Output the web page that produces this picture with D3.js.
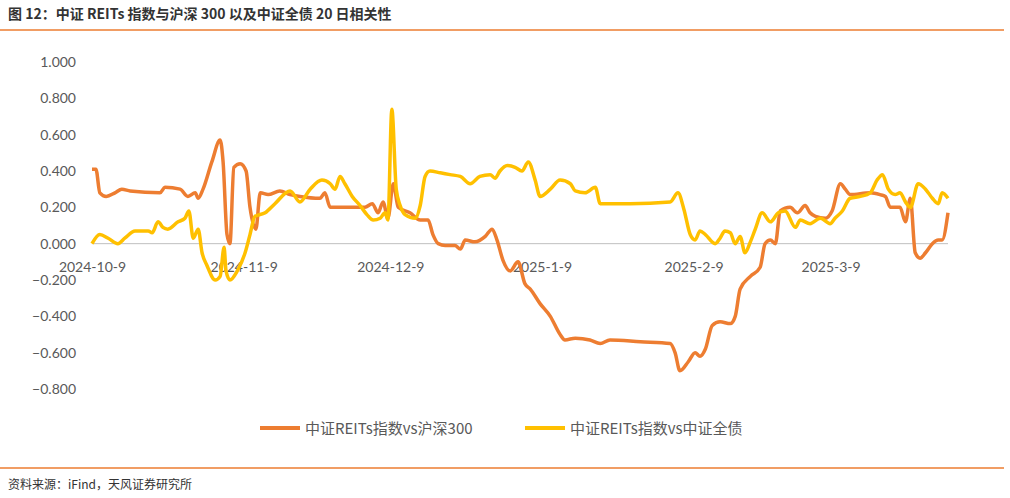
<!DOCTYPE html>
<html><head><meta charset="utf-8">
<script src="https://cdn.jsdelivr.net/npm/d3@7/dist/d3.min.js"></script>
<style>body{margin:0;background:#fff;font-family:"Noto Sans CJK SC","Noto Sans",sans-serif;}</style>
</head><body><svg id="c" width="1010" height="498"></svg>
<script>
const title = "图 12：中证 REITs 指数与沪深 300 以及中证全债 20 日相关性";
const source = "资料来源：iFind，天风证券研究所";
const startDate = "2024-10-9";
const tickDays = [0, 31, 61, 92, 123, 151];
const tickLabels = ["2024-10-9","2024-11-9","2024-12-9","2025-1-9","2025-2-9","2025-3-9"];
const yTicks = [1.0,0.8,0.6,0.4,0.2,0,-0.2,-0.4,-0.6,-0.8];
const seriesNames = ["中证REITs指数vs沪深300","中证REITs指数vs中证全债"];
const orangeDays = [0,0.8,1.6,2.9,4.7,6.1,7.8,13.9,14.9,18,19.6,21.1,21.7,22.7,24.5,26.2,26.8,27.6,28.2,29,30.3,31.5,32.3,33.5,34.4,36,38.4,40.5,42.5,46.6,47.6,48.7,52.8,55.8,57.3,58.5,59.5,60.5,61.6,62.6,65,67.1,68.7,69.7,70.8,72.2,74.2,75.3,76.3,78.3,80.4,81.8,82.8,84,85.5,87.1,88.5,89.6,91.6,93.7,95.7,96.7,98.8,101.8,103.9,105.9,112.1,118.2,119.2,120.2,121.9,123.3,124.3,125.4,126.8,128.4,130.5,131.5,132.5,134.6,136.6,137.6,138.7,139.7,140.7,142.7,144.2,145.8,146.8,147.9,149.9,151.3,153,154,155,159.1,161.1,162.2,163.2,165.2,166.3,167.3,168.3,169.3,170.4,171.8,173,173.8,175];
const orangeVals = [0.41,0.41,0.28,0.26,0.28,0.30,0.29,0.28,0.31,0.30,0.26,0.28,0.25,0.30,0.45,0.57,0.45,0.05,0.0,0.42,0.44,0.40,0.20,0.08,0.28,0.27,0.29,0.27,0.26,0.25,0.28,0.20,0.20,0.20,0.22,0.17,0.23,0.14,0.33,0.20,0.17,0.13,0.13,0.05,0.0,-0.01,-0.01,-0.03,0.02,0.01,0.04,0.08,0.02,-0.09,-0.15,-0.10,-0.22,-0.25,-0.33,-0.40,-0.50,-0.53,-0.52,-0.53,-0.55,-0.53,-0.54,-0.55,-0.60,-0.70,-0.65,-0.60,-0.62,-0.58,-0.45,-0.43,-0.44,-0.40,-0.25,-0.18,-0.13,0.0,0.02,0.0,0.18,0.20,0.17,0.21,0.17,0.15,0.14,0.18,0.33,0.30,0.27,0.28,0.27,0.26,0.20,0.20,0.12,0.25,-0.05,-0.08,-0.05,0.0,0.02,0.02,0.17];
const yellowDays = [0,1.6,3.3,5.3,6.7,8.8,11.5,12.3,13.5,14.5,15.5,17.6,19,19.8,20.7,21.7,22.5,23.5,25.2,26.2,27,27.4,28.2,29.7,31.3,32.3,33.3,35.4,37.4,40.5,42.5,44.6,47,48.7,49.7,50.7,51.7,53.2,54.8,56.2,57.5,58.9,59.9,60.5,61.3,62.2,63,64,66.1,67.1,68.1,69.1,71.2,73.2,75.3,77.3,79.3,81.4,82.4,83.4,84.9,86.5,87.9,89.2,90.6,91.6,93.7,95.7,97.8,98.8,100.8,102.9,103.9,110,118.2,119.8,121,122.3,123.3,124.3,125.4,127.4,128.4,129.4,130.5,131.5,132.5,133.5,134.6,135.6,137,138.7,140.3,141.7,143.8,144.8,146.8,148.9,150.9,151.9,153.4,155,157.1,159.1,160.5,161.6,162.8,164.2,165.2,166.3,167.3,168.9,170.4,171.8,173,173.8,175];
const yellowVals = [0.0,0.05,0.03,0.0,0.03,0.07,0.07,0.06,0.12,0.09,0.08,0.12,0.14,0.18,0.03,0.08,-0.05,-0.12,-0.20,-0.18,-0.02,-0.15,-0.20,-0.15,-0.05,0.05,0.15,0.17,0.22,0.29,0.23,0.30,0.35,0.33,0.30,0.37,0.33,0.26,0.21,0.16,0.13,0.14,0.17,0.13,0.74,0.30,0.21,0.16,0.14,0.21,0.37,0.40,0.39,0.38,0.37,0.33,0.37,0.38,0.36,0.40,0.43,0.42,0.40,0.45,0.35,0.26,0.30,0.35,0.33,0.29,0.28,0.31,0.22,0.22,0.23,0.28,0.19,0.05,0.02,0.07,0.05,0.0,0.03,0.07,0.06,0.0,0.04,-0.05,0.01,0.08,0.17,0.12,0.17,0.18,0.09,0.13,0.11,0.14,0.11,0.14,0.18,0.25,0.26,0.28,0.35,0.38,0.30,0.27,0.28,0.23,0.20,0.33,0.30,0.25,0.22,0.28,0.25];
const colors = ["#ED7D31","#FFC000"];

const svg = d3.select("#c");
svg.append("text").attr("x",8).attr("y",19).attr("font-size",14).attr("font-weight","bold").attr("fill","#333").text(title);
svg.append("line").attr("x1",0).attr("x2",1004).attr("y1",30).attr("y2",30).attr("stroke","#ED7D31").attr("stroke-width",1.5);
svg.append("line").attr("x1",0).attr("x2",1004).attr("y1",468).attr("y2",468).attr("stroke","#ED7D31").attr("stroke-width",1.5);
svg.append("text").attr("x",8).attr("y",489).attr("font-size",12).attr("fill","#333").text(source);

const x = d3.scaleLinear().domain([0,175]).range([92,948]);
const y = d3.scaleLinear().domain([-0.8,1.0]).range([389,62]);

const ya = svg.append("g").attr("transform","translate(80,0)")
  .call(d3.axisLeft(y).tickValues(yTicks).tickFormat(d3.format(".3f")).tickSize(0).tickPadding(4));
ya.select(".domain").remove();
ya.selectAll("text").attr("font-size",14).attr("fill","#595959").attr("font-family","Lato,'Noto Sans',sans-serif")
  .text(d=>d3.format(".3f")(d).replace("-","-"));

svg.append("line").attr("x1",x(0)).attr("x2",x(175)).attr("y1",y(0)).attr("y2",y(0)).attr("stroke","#bfbfbf");
const xa = svg.append("g").attr("transform",`translate(0,${y(0)})`)
  .call(d3.axisBottom(x).tickValues(tickDays).tickFormat((d,i)=>tickLabels[i]).tickSize(0).tickPadding(18));
xa.select(".domain").remove();
xa.selectAll("text").attr("font-size",14).attr("fill","#595959").attr("font-family","Lato,'Noto Sans',sans-serif");

const line = d3.line().x(d=>x(d[0])).y(d=>y(d[1])).curve(d3.curveMonotoneX);
[[orangeDays,orangeVals],[yellowDays,yellowVals]].forEach(([ds,vs],i)=>{
  svg.append("path").datum(ds.map((d,j)=>[d,vs[j]])).attr("d",line)
    .attr("fill","none").attr("stroke",colors[i]).attr("stroke-width",3.5).attr("stroke-linejoin","round");
});

const legX = [260,525];
seriesNames.forEach((n,i)=>{
  svg.append("line").attr("x1",legX[i]).attr("x2",legX[i]+40).attr("y1",428).attr("y2",428).attr("stroke",colors[i]).attr("stroke-width",4);
  svg.append("text").attr("x",legX[i]+45).attr("y",434).attr("font-size",15).attr("fill","#595959").text(n);
});
</script></body></html>
